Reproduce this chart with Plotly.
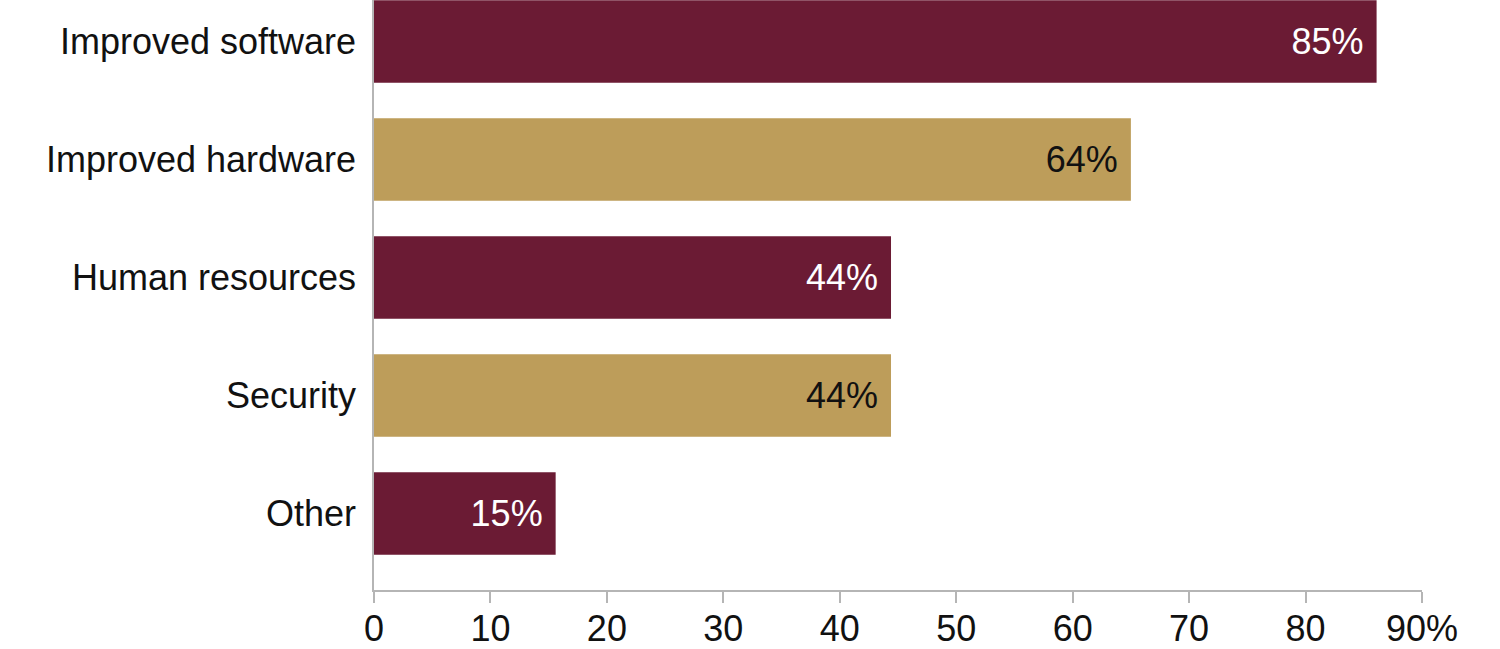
import plotly.graph_objects as go

categories = ["Improved software", "Improved hardware", "Human resources", "Security", "Other"]
values = [86.1, 65.0, 44.4, 44.4, 15.6]
value_labels = ["85%", "64%", "44%", "44%", "15%"]
bar_colors = ["#6B1B34", "#BD9D5A", "#6B1B34", "#BD9D5A", "#6B1B34"]
text_colors = ["#FFFFFF", "#111111", "#FFFFFF", "#111111", "#FFFFFF"]
tick_vals = [0, 10, 20, 30, 40, 50, 60, 70, 80, 90]
tick_text = ["0", "10", "20", "30", "40", "50", "60", "70", "80", "90%"]

FONT = "Liberation Sans"

fig = go.Figure(
    go.Bar(
        x=values,
        y=categories,
        orientation="h",
        marker=dict(color=bar_colors, line=dict(width=0)),
        text=[t + "\u00a0" for t in value_labels],
        textposition="inside",
        insidetextanchor="end",
        insidetextfont=dict(family=FONT, size=36, color=text_colors),
        cliponaxis=False,
        hoverinfo="skip",
    )
)

fig.update_layout(
    width=1500,
    height=649,
    margin=dict(l=374, r=78, t=0, b=59),
    paper_bgcolor="white",
    plot_bgcolor="white",
    bargap=0.3,
    showlegend=False,
    font=dict(family=FONT, size=36, color="#111111"),
    xaxis=dict(
        range=[0, 90],
        automargin=False,
        tickmode="array",
        tickvals=tick_vals,
        ticktext=tick_text,
        ticks="outside",
        ticklen=11,
        tickwidth=1.5,
        tickcolor="#B5B5B5",
        ticklabelstandoff=-5,
        showline=True,
        linecolor="#B5B5B5",
        linewidth=1.5,
        showgrid=False,
        zeroline=False,
        tickfont=dict(family=FONT, size=36, color="#111111"),
    ),
    yaxis=dict(
        range=[4.648, -0.352],
        automargin=False,
        showline=True,
        linecolor="#B5B5B5",
        linewidth=1.5,
        showgrid=False,
        zeroline=False,
        ticks="",
        ticklabelstandoff=9,
        tickfont=dict(family=FONT, size=36, color="#111111"),
    ),
)

fig.write_html(
    "out.html",
    config={"displayModeBar": False},
    post_script="document.body.style.margin='0px'; document.body.style.overflow='hidden';",
)
